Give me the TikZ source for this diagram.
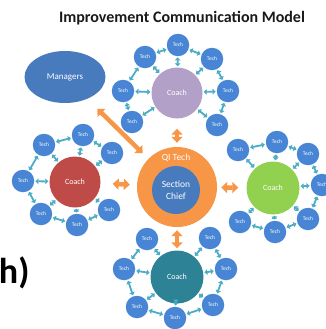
\documentclass[tikz,border=0pt]{standalone}
\usepackage{fontspec}
\setmainfont{Carlito}
\usetikzlibrary{arrows.meta, shapes.geometric}
\definecolor{techblue}{RGB}{72,133,212}
\definecolor{mgrblue}{RGB}{72,122,190}
\definecolor{qiorange}{RGB}{247,150,70}
\definecolor{coachpurple}{RGB}{178,160,200}
\definecolor{coachred}{RGB}{190,75,72}
\definecolor{coachgreen}{RGB}{146,208,80}
\definecolor{coachteal}{RGB}{45,130,150}
\definecolor{linkteal}{RGB}{75,172,198}

\begin{document}
\begin{tikzpicture}[x=1pt, y=-1pt]
    % Define styles
    \tikzstyle{tech}=[circle, fill=techblue, minimum size=22.5pt, inner sep=0pt, text=white, font=\fontsize{5.5}{6}\selectfont]
    \tikzstyle{coach}=[circle, minimum size=51pt, inner sep=0pt, text=white, font=\fontsize{8}{9}\selectfont]
    \tikzstyle{link}=[draw=linkteal, line width=1.8pt, {Triangle[width=5.5pt,length=3pt]}-{Triangle[width=5.5pt,length=3pt]}, shorten <=1pt, shorten >=1pt]
    \tikzstyle{bigarrow}=[draw=qiorange, line width=4.5pt, {Triangle[width=11pt,length=6pt]}-{Triangle[width=11pt,length=6pt]}]

    \useasboundingbox (0,0) rectangle (325,329);

    % Title
    \node[font=\fontsize{16}{17}\selectfont\bfseries, text=black!90] at (182,18) (title) {Improvement Communication Model};
    \node[font=\fontsize{36}{36}\selectfont\bfseries, anchor=base east] at (33,283) (cut) {h)};

    % Managers and the centre
    \node[ellipse, fill=mgrblue, minimum width=81pt, minimum height=52pt, text=white, font=\fontsize{9}{10}\selectfont] at (65,77) (managers) {Managers};
    \node[circle, fill=qiorange, minimum size=80pt] at (177,187) (qi) {};
    \node[circle, fill=mgrblue, minimum size=48pt, inner sep=0pt, text=white, align=center, font=\fontsize{9.5}{12}\selectfont] at (176,190) (chief) {Section\\Chief};
    \node[text=white, font=\fontsize{9.5}{10}\selectfont] at (176,158) (qilabel) {QI Tech};

    % Top cluster
    \node[coach, fill=coachpurple] at (177,93) (ct) {Coach};
    \node[tech] at (178,45) (tt1) {Tech};
    \node[tech] at (212,59) (tt2) {Tech};
    \node[tech] at (228,91) (tt3) {Tech};
    \node[tech] at (217,125) (tt4) {Tech};
    \node[tech] at (132,122) (tt6) {Tech};
    \node[tech] at (123,91) (tt7) {Tech};
    \node[tech] at (145,57) (tt8) {Tech};

    % Left cluster
    \node[coach, fill=coachred] at (75,182) (cl) {Coach};
    \node[tech] at (83,135) (tl1) {Tech};
    \node[tech] at (112,153) (tl2) {Tech};
    \node[tech] at (109,210) (tl4) {Tech};
    \node[tech] at (77,225) (tl5) {Tech};
    \node[tech] at (41,214) (tl6) {Tech};
    \node[tech] at (23,181) (tl7) {Tech};
    \node[tech] at (44,145) (tl8) {Tech};

    % Right cluster
    \node[coach, fill=coachgreen, minimum size=53pt] at (273,188) (cr) {Coach};
    \node[tech] at (277,142) (tr1) {Tech};
    \node[tech] at (308,154) (tr2) {Tech};
    \node[tech] at (322,185) (tr3) {Tech};
    \node[tech] at (308,219) (tr4) {Tech};
    \node[tech] at (275,232) (tr5) {Tech};
    \node[tech] at (240,222) (tr6) {Tech};
    \node[tech] at (238,150) (tr8) {Tech};

    % Bottom cluster
    \node[coach, fill=coachteal, minimum size=53pt] at (177,277) (cb) {Coach};
    \node[tech] at (210,238) (tb2) {Tech};
    \node[tech] at (226,269) (tb3) {Tech};
    \node[tech] at (213,305) (tb4) {Tech};
    \node[tech] at (175,318) (tb5) {Tech};
    \node[tech] at (137,307) (tb6) {Tech};
    \node[tech] at (124,269) (tb7) {Tech};
    \node[tech] at (147,239) (tb8) {Tech};

    % Coach to tech links
    \path (ct) edge[link] (tt1) edge[link] (tt2) edge[link] (tt3) edge[link] (tt4) edge[link] (tt6) edge[link] (tt7) edge[link] (tt8);
    \path (cl) edge[link] (tl1) edge[link] (tl2) edge[link] (tl4) edge[link] (tl5) edge[link] (tl6) edge[link] (tl7) edge[link] (tl8);
    \path (cr) edge[link] (tr1) edge[link] (tr2) edge[link] (tr3) edge[link] (tr4) edge[link] (tr5) edge[link] (tr6) edge[link] (tr8);
    \path (cb) edge[link] (tb2) edge[link] (tb3) edge[link] (tb4) edge[link] (tb5) edge[link] (tb6) edge[link] (tb7) edge[link] (tb8);

    % Tech to tech links
    \path (tt1) edge[link] (tt2) (tt2) edge[link] (tt3) (tt3) edge[link] (tt4) (tt6) edge[link] (tt7) (tt7) edge[link] (tt8) (tt8) edge[link] (tt1);
    \path (tl1) edge[link] (tl2) (tl4) edge[link] (tl5) (tl5) edge[link] (tl6) (tl6) edge[link] (tl7) (tl7) edge[link] (tl8) (tl8) edge[link] (tl1);
    \path (tr1) edge[link] (tr2) (tr2) edge[link] (tr3) (tr3) edge[link] (tr4) (tr4) edge[link] (tr5) (tr5) edge[link] (tr6) (tr8) edge[link] (tr1);
    \path (tb2) edge[link] (tb3) (tb3) edge[link] (tb4) (tb4) edge[link] (tb5) (tb5) edge[link] (tb6) (tb6) edge[link] (tb7) (tb7) edge[link] (tb8);

    % QI Tech arrows
    \draw[bigarrow, shorten <=14pt, shorten >=8pt] (managers) -- (qi);
    \draw[bigarrow, shorten <=10pt, shorten >=4pt] (ct) -- (qi);
    \draw[bigarrow, shorten <=12pt, shorten >=7pt] (cl) -- (qi);
    \draw[bigarrow, shorten <=4pt, shorten >=8pt] (qi) -- (cr);
    \draw[bigarrow, shorten <=3pt, shorten >=2pt] (qi) -- (cb);
\end{tikzpicture}
\end{document}
